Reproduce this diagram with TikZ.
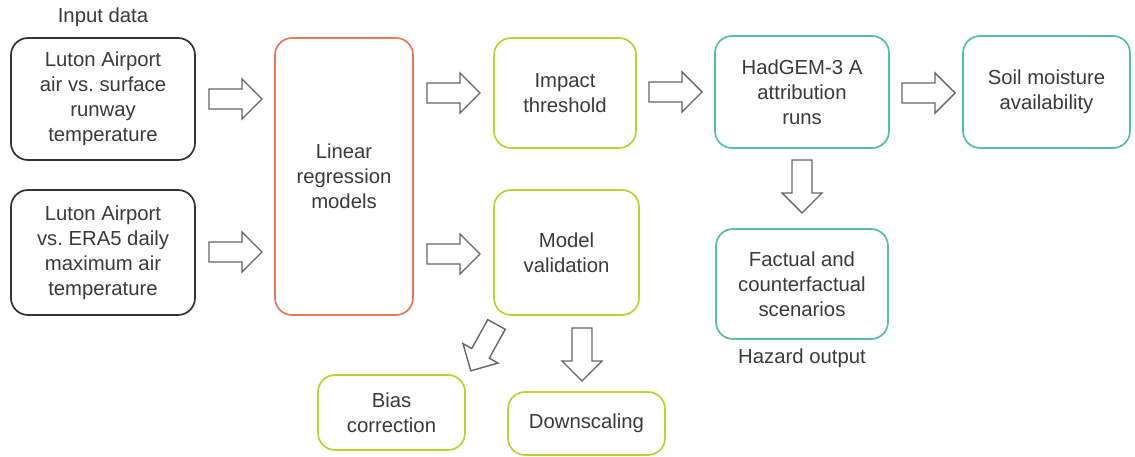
\documentclass[tikz,border=0pt]{standalone}
\usepackage{fontspec}
\setmainfont{Liberation Sans}
\frenchspacing
\definecolor{boxblack}{HTML}{333333}
\definecolor{boxorange}{HTML}{E9775A}
\definecolor{boxlime}{HTML}{B8D432}
\definecolor{boxteal}{HTML}{56BFA3}
\definecolor{arrowgray}{HTML}{666666}
\definecolor{txt}{HTML}{3A3A3A}
\tikzset{
  box/.style={draw, rounded corners=17pt, line width=1.7pt, align=center, inner sep=0pt,
    font=\fontsize{20.3}{25}\selectfont, text=txt},
  lbl/.style={font=\fontsize{20.3}{25}\selectfont, text=txt, inner sep=0pt},
  barrow/.pic={\draw[arrowgray, line width=1.4pt, fill=white, line join=miter]
     (0,-10) -- (33,-10) -- (33,-20) -- (53,0) -- (33,20) -- (33,10) -- (0,10) -- cycle;}
}
\begin{document}
\begin{tikzpicture}[x=1pt, y=-1pt]
\useasboundingbox (0,0) rectangle (1135,457);
% boxes
\node[box, draw=boxblack, minimum width=184pt, minimum height=122pt] (in1) at (103,99)
  {Luton Airport\\air vs. surface\\runway\\temperature};
\node[box, draw=boxblack, minimum width=184pt, minimum height=125pt] (in2) at (103,252.5)
  {Luton Airport\\vs. ERA5 daily\\maximum air\\temperature};
\node[box, draw=boxorange, minimum width=138pt, minimum height=277pt] (lr) at (344,176.5)
  {Linear\\regression\\models};
\node[box, draw=boxlime, minimum width=142pt, minimum height=110pt] (imp) at (565,93)
  {Impact\\threshold};
\node[box, draw=boxlime, minimum width=145pt, minimum height=125pt] (mv) at (566.5,252.5)
  {Model\\validation};
\node[box, draw=boxteal, minimum width=174pt, minimum height=112pt] (had) at (802,92)
  {HadGEM-3 A\\attribution\\runs};
\node[box, draw=boxteal, minimum width=167pt, minimum height=112pt] (soil) at (1046.5,92)
  {Soil moisture\\availability};
\node[box, draw=boxteal, minimum width=172pt, minimum height=110pt] (fact) at (802,284)
  {Factual and\\counterfactual\\scenarios};
\node[box, draw=boxlime, minimum width=147pt, minimum height=75pt] (bias) at (391.5,412.5)
  {Bias\\correction};
\node[box, draw=boxlime, minimum width=157pt, minimum height=63pt] (down) at (586.5,423.5)
  {Downscaling};
% labels
\node[lbl] (inlbl) at (103,17) {Input data};
\node[lbl] (hazlbl) at (802,358) {Hazard output};
% block arrows
\pic at (209,99) {barrow};
\pic at (209,252) {barrow};
\pic at (427,93) {barrow};
\pic at (427,254) {barrow};
\pic at (649,92) {barrow};
\pic at (902,93) {barrow};
\pic[rotate=-90] at (802,160) {barrow};
\pic[rotate=-90] at (582,328) {barrow};
\pic[rotate=241] at (496.5,324.5) {barrow};
\end{tikzpicture}
\end{document}
